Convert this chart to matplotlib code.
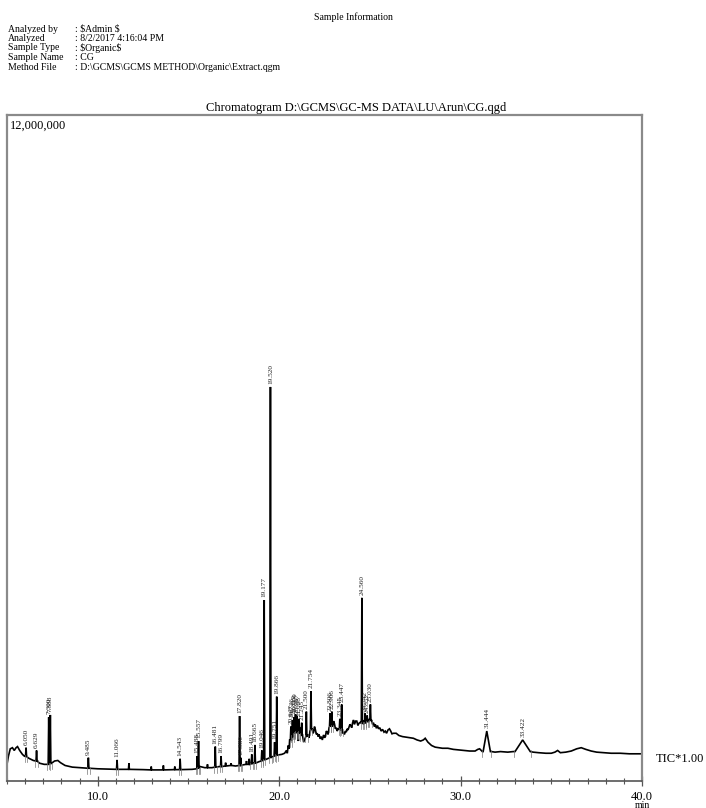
import matplotlib
matplotlib.use("Agg")
import matplotlib.pyplot as plt
from matplotlib.ticker import FixedLocator, MultipleLocator, NullLocator

plt.rcParams['font.family'] = ['Liberation Serif', 'DejaVu Serif']

W, H = 706, 808

# ---- report header ----
info_title = "Sample Information"
info_keys = ["Analyzed by", "Analyzed", "Sample Type", "Sample Name", "Method File"]
info_vals = [": $Admin $", ": 8/2/2017 4:16:04 PM", ": $Organic$", ": CG",
             ": D:\\GCMS\\GCMS METHOD\\Organic\\Extract.qgm"]
chrom_title = "Chromatogram D:\\GCMS\\GC-MS DATA\\LU\\Arun\\CG.qgd"

# ---- TIC baseline (time in min, intensity in millions of counts) ----
base_t = [5.00, 5.08, 5.18, 5.30, 5.40, 5.50, 5.58, 5.70, 5.85, 5.95, 6.20, 6.45,
          6.80, 7.05, 7.50, 7.62, 7.80, 7.95, 8.20, 8.60, 9.00, 9.40, 10.0, 10.5,
          11.0, 12.5, 13.5, 14.5, 15.2, 15.45, 15.65, 15.9, 16.3, 16.7, 17.0, 17.3,
          17.6, 18.0, 18.3, 18.6, 18.9, 19.1, 19.35, 19.65, 19.95, 20.15, 20.30,
          20.40, 20.45, 20.50, 20.55, 20.58, 20.62, 20.70, 20.78, 20.82, 20.86,
          20.94, 21.02, 21.06, 21.10, 21.14, 21.18, 21.22, 21.30, 21.35, 21.40,
          21.48, 21.53, 21.60, 21.65, 21.70, 21.82, 21.86, 21.90, 21.95, 22.00,
          22.05, 22.10, 22.15, 22.20, 22.26, 22.32, 22.38, 22.45, 22.50, 22.55,
          22.60, 22.65, 22.70, 22.75, 22.85, 22.95, 23.00, 23.05, 23.10, 23.15,
          23.20, 23.25, 23.32, 23.40, 23.48, 23.55, 23.60, 23.65, 23.70, 23.75,
          23.80, 23.85, 23.90, 23.95, 24.00, 24.05, 24.10, 24.15, 24.22, 24.28,
          24.34, 24.40, 24.48, 24.65, 24.70, 24.80, 24.92, 24.97, 25.10, 25.15,
          25.20, 25.25, 25.30, 25.36, 25.42, 25.48, 25.55, 25.62, 25.70, 25.78,
          25.85, 25.92, 26.00, 26.08, 26.15, 26.22, 26.30, 26.45, 26.60, 26.80,
          27.00, 27.20, 27.40, 27.60, 27.80, 27.95, 28.05, 28.20, 28.40, 28.60,
          28.80, 29.00, 29.30, 29.60, 29.90, 30.20, 30.50, 30.80, 30.95, 31.05,
          31.20, 31.70, 31.90, 32.20, 32.60, 32.90, 34.00, 34.30, 34.70, 35.00,
          35.20, 35.35, 35.50, 35.80, 36.10, 36.40, 36.65, 36.90, 37.20, 37.50,
          37.90, 38.30, 38.80, 39.30, 40.00]
base_i = [0.30, 0.45, 0.58, 0.60, 0.55, 0.60, 0.62, 0.55, 0.48, 0.45, 0.41, 0.37,
          0.32, 0.30, 0.33, 0.36, 0.37, 0.33, 0.28, 0.25, 0.24, 0.23, 0.22, 0.215,
          0.21, 0.205, 0.20, 0.205, 0.21, 0.22, 0.26, 0.24, 0.24, 0.26, 0.27, 0.28,
          0.27, 0.29, 0.30, 0.32, 0.35, 0.37, 0.40, 0.44, 0.47, 0.48, 0.50,
          0.55, 0.50, 0.64, 0.58, 0.75, 0.66, 0.85, 0.80, 0.98, 0.92,
          0.84, 0.95, 0.72, 0.82, 0.96, 0.90, 0.76, 0.80, 0.70, 0.74,
          0.78, 0.70, 0.83, 0.78, 0.90, 0.95, 0.86, 0.88, 0.98, 0.92,
          0.84, 0.86, 0.80, 0.84, 0.76, 0.80, 0.74, 0.83, 0.78, 0.80,
          0.90, 0.88, 0.84, 0.96, 1.00, 0.98, 1.08, 1.03, 0.94, 0.96,
          0.90, 0.94, 0.88, 0.92, 0.86, 0.88, 0.84, 0.90, 0.88, 0.94,
          0.92, 0.97, 1.02, 1.00, 0.96, 1.05, 1.10, 1.02, 1.08, 1.08,
          1.00, 1.04, 1.06, 1.03, 1.10, 1.08, 1.06, 1.12, 1.10, 1.02,
          1.05, 0.98, 1.02, 0.95, 1.00, 0.94, 0.96, 0.90, 0.93, 0.88,
          0.90, 0.86, 0.92, 0.94, 0.90, 0.85, 0.86, 0.86, 0.82, 0.80,
          0.79, 0.78, 0.77, 0.74, 0.72, 0.74, 0.77, 0.70, 0.64, 0.61,
          0.60, 0.59, 0.59, 0.57, 0.56, 0.55, 0.54, 0.54, 0.57, 0.58,
          0.53, 0.53, 0.52, 0.53, 0.52, 0.53, 0.52, 0.51, 0.50, 0.50,
          0.52, 0.55, 0.51, 0.52, 0.54, 0.58, 0.60, 0.57, 0.54, 0.52,
          0.51, 0.50, 0.50, 0.49, 0.49]

# ---- integrated peaks: retention time label, apex and foot intensity ----
peak_rt = ["6.050", "6.629", "7.300", "7.388", "9.485", "11.066", "14.543",
           "15.488", "15.557", "16.481", "16.799", "17.820", "17.880", "18.491",
           "18.665", "19.046", "19.177", "19.520", "19.751", "19.866", "20.647",
           "20.736", "20.819", "20.900", "20.967", "21.098", "21.245", "21.500",
           "21.754", "22.806", "22.906", "23.345", "23.447", "24.560", "24.742",
           "24.852", "25.030", "31.444", "33.422"]
peak_top = [0.60, 0.55, 1.15, 1.19, 0.42, 0.38, 0.40,
            0.45, 0.72, 0.62, 0.45, 1.17, 0.42, 0.48,
            0.65, 0.55, 3.26, 7.10, 0.70, 1.52, 0.98,
            1.10, 1.15, 1.20, 1.18, 1.12, 1.05, 1.25,
            1.62, 1.22, 1.25, 1.12, 1.38, 3.30, 1.22,
            1.18, 1.38, 0.90, 0.74]
peak_foot = [0.44, 0.36, 0.30, 0.31, 0.23, 0.21, 0.205,
             0.22, 0.23, 0.25, 0.26, 0.28, 0.28, 0.31,
             0.32, 0.36, 0.38, 0.42, 0.45, 0.46, 0.72,
             0.80, 0.85, 0.86, 0.88, 0.85, 0.82, 0.80,
             0.92, 0.98, 0.99, 0.93, 0.91, 1.04, 1.04,
             1.07, 1.08, 0.53, 0.53]

# small unlabelled spikes along the baseline
spike_t = [11.72, 12.95, 13.62, 14.25, 16.05, 17.05, 17.35, 18.20, 18.35]
spike_top = [0.32, 0.26, 0.28, 0.26, 0.30, 0.33, 0.32, 0.36, 0.40]
spike_foot = [0.21, 0.20, 0.20, 0.205, 0.24, 0.27, 0.28, 0.30, 0.30]

SCALE = 1e6
NARROW = 0.03
BROAD = {"31.444": 0.20, "33.422": 0.42}

# ---- assemble the trace ----
peak_pts = []
windows = []
for lab, top, foot in zip(peak_rt, peak_top, peak_foot):
    rt = float(lab)
    hw = BROAD.get(lab, NARROW)
    peak_pts += [(rt - hw, foot), (rt, top), (rt + hw, foot)]
    windows.append((rt - hw, rt + hw))
for rt, top, foot in zip(spike_t, spike_top, spike_foot):
    peak_pts += [(rt - 0.025, foot), (rt, top), (rt + 0.025, foot)]
    windows.append((rt - 0.025, rt + 0.025))

pts = [(t, v) for t, v in zip(base_t, base_i)
       if not any(a <= t <= b for a, b in windows)]
pts += peak_pts
pts.sort()
trace_t = [p[0] for p in pts]
trace_i = [p[1] * SCALE for p in pts]

# ---- figure ----
fig = plt.figure(figsize=(W / 100, H / 100), dpi=100)
fig.patch.set_facecolor("white")


def px(x, y):
    return x / W, 1 - y / H


fig.text(*px(353, 17), info_title, ha="center", va="center", fontsize=7)
for k, (key, val) in enumerate(zip(info_keys, info_vals)):
    y = 29 + k * 9.5
    fig.text(*px(8, y), key, ha="left", va="center", fontsize=7)
    fig.text(*px(75, y), val, ha="left", va="center", fontsize=7,
             parse_math=False)

fig.text(*px(356, 108), chrom_title, ha="center", va="center", fontsize=9)

left, right, top, bottom = 7, 642, 115, 781
ax = fig.add_axes([left / W, 1 - bottom / H, (right - left) / W, (bottom - top) / H])
ax.set_xlim(5, 40)
ax.set_ylim(0, 12e6)

frame = "#8a8a8a"
for side in ["left", "top", "right"]:
    ax.spines[side].set_color(frame)
    ax.spines[side].set_linewidth(1.6)
ax.spines["bottom"].set_color("#555555")
ax.spines["bottom"].set_linewidth(1.2)

ax.yaxis.set_major_locator(NullLocator())
ax.xaxis.set_major_locator(FixedLocator([10, 20, 30, 40]))
ax.xaxis.set_minor_locator(MultipleLocator(1))
ax.set_xticklabels(["10.0", "20.0", "30.0", "40.0"], fontsize=9)
ax.tick_params(axis="x", which="major", length=7, width=0.9, color="#555555",
               direction="inout", pad=4)
ax.tick_params(axis="x", which="minor", length=5, width=0.8, color="#555555",
               direction="inout")

ax.plot(trace_t, trace_i, color="black", lw=1.2, solid_joinstyle="miter")

# integration markers and retention-time labels
for lab, top_v, foot in zip(peak_rt, peak_top, peak_foot):
    rt = float(lab)
    hw = BROAD.get(lab, NARROW)
    for xm in (rt - hw - 0.04, rt + hw + 0.04):
        ax.plot([xm, xm], [foot * SCALE - 0.10e6, foot * SCALE + 0.02e6],
                color="#777777", lw=0.5)
    ax.annotate(lab, (rt, top_v * SCALE), xytext=(0, 2), textcoords="offset points",
                rotation=90, ha="center", va="bottom", fontsize=5.2, color="#222222")

ax.text(0.004, 0.993, "12,000,000", transform=ax.transAxes, ha="left", va="top",
        fontsize=9)
fig.text(*px(680, 759), "TIC*1.00", ha="center", va="center", fontsize=9)
fig.text(*px(642, 805), "min", ha="center", va="center", fontsize=7)

fig.savefig("out.png", dpi=100)
